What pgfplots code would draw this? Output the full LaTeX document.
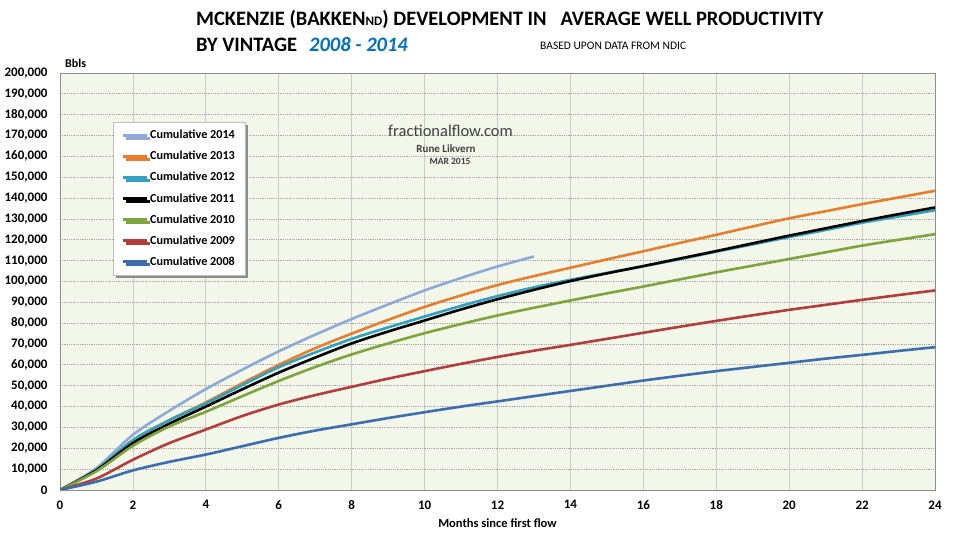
\documentclass[border=0pt]{standalone}
\usepackage{pgfplots}
\pgfplotsset{compat=1.18}
\usepackage{pgfplotstable}
\usepackage{fontspec}
\setmainfont{Carlito}
\usetikzlibrary{shadows}
\definecolor{c14}{RGB}{141,170,214}
\definecolor{c13}{RGB}{232,125,45}
\definecolor{c12}{RGB}{50,160,190}
\definecolor{c11}{RGB}{0,0,0}
\definecolor{c10}{RGB}{125,165,60}
\definecolor{c09}{RGB}{180,60,60}
\definecolor{c08}{RGB}{60,110,175}
\definecolor{bgcol}{RGB}{242,247,234}
\definecolor{titleblue}{RGB}{0,112,192}
\definecolor{wm}{RGB}{64,64,64}

\pgfplotstableread{
m y14
0 0
1 10500
2 26500
3 38000
4 48400
5 57700
6 66500
7 74500
8 82000
9 89000
10 95700
11 101700
12 107200
13 112000
}\tabA

\pgfplotstableread{
m y13 y12 y11 y10 y09 y08
0 0 0 0 0 0 0
1 9700 9700 9500 9000 5500 4000
2 23500 24000 22500 21200 14500 9400
3 33500 33500 31800 30500 22500 13500
4 42000 41500 40000 37500 29000 17000
5 51200 50300 48300 45000 35500 21000
6 60000 58900 56300 52300 41000 25000
7 68000 66000 63500 59000 45500 28500
8 75000 72500 70300 65000 49500 31500
9 81600 78000 76000 70300 53400 34500
10 87800 83200 81300 75200 57000 37300
11 93300 88300 86600 79600 60500 40000
12 98300 93000 91500 83700 63800 42500
13 102600 97200 96000 87400 66800 45000
14 106600 100800 100200 90900 69600 47500
15 110600 104100 103900 94300 72500 50000
16 114500 107300 107400 97600 75400 52500
17 118500 110700 111000 101000 78300 54800
18 122400 114300 114600 104400 81100 57000
19 126400 117800 118300 107600 83800 59000
20 130300 121300 122000 110800 86400 61000
21 133700 124700 125500 114000 88800 63000
22 137100 128200 129000 117200 91200 64800
23 140300 131200 132300 120000 93500 66700
24 143500 134200 135500 122700 95700 68500
}\tabB

\begin{document}
\begin{tikzpicture}[x=1pt,y=1pt]
\useasboundingbox (0,0) rectangle (960,540);
\fill[white] (0,0) rectangle (960,540);
\begin{axis}[
  at={(60pt,50pt)}, anchor=south west,
  scale only axis, width=875pt, height=417pt,
  xmin=0, xmax=24, ymin=0, ymax=200000,
  xtick distance=2,
  ytick distance=10000,
  scaled y ticks=false,
  /pgf/number format/assume math mode=true,
  /pgf/number format/fixed,
  /pgf/number format/precision=0,
  /pgf/number format/1000 sep={,},
  tick label style={font=\bfseries\fontsize{13}{15}\selectfont},
  yticklabel style={xshift=-9pt},
  xticklabel style={yshift=-7pt},
  major tick length=0pt,
  grid=major,
  x grid style={line width=0.8pt, color=black!20},
  y grid style={line width=0.8pt, color=black!35, densely dotted},
  axis line style={color=black!45, line width=0.8pt},
  axis background/.style={fill=bgcol},
  xlabel={\bfseries Months since first flow},
  xlabel style={font=\fontsize{12.5}{14}\selectfont, at={(axis description cs:0.5,0)}, anchor=center, yshift=-33pt},
  legend style={at={(axis cs:1.45,176500)}, anchor=north west,
    draw=black!25, fill=white,
    font=\bfseries\fontsize{12.2}{14}\selectfont,
    row sep=7pt, inner xsep=8pt, inner ysep=6pt,
    drop shadow={shadow xshift=3pt, shadow yshift=-3pt, fill=black!45, opacity=1}},
  legend cell align=left,
  legend image code/.code={\draw[#1, line width=3pt] (0pt,0pt) -- (24pt,0pt);},
  every axis plot/.append style={line width=2.6pt, smooth, tension=0.5},
]
\addplot[c14] table[x=m, y=y14] {\tabA};
\addlegendentry{Cumulative 2014}
\addplot[c13] table[x=m, y=y13] {\tabB};
\addlegendentry{Cumulative 2013}
\addplot[c12] table[x=m, y=y12] {\tabB};
\addlegendentry{Cumulative 2012}
\addplot[c11] table[x=m, y=y11] {\tabB};
\addlegendentry{Cumulative 2011}
\addplot[c10] table[x=m, y=y10] {\tabB};
\addlegendentry{Cumulative 2010}
\addplot[c09] table[x=m, y=y09] {\tabB};
\addlegendentry{Cumulative 2009}
\addplot[c08] table[x=m, y=y08] {\tabB};
\addlegendentry{Cumulative 2008}
\end{axis}
% titles and annotations
\node[anchor=base west, inner sep=0pt, font=\bfseries\fontsize{20.5}{24}\selectfont] at (196,514)
  {MCKENZIE (BAKKEN{\fontsize{13}{14}\selectfont ND}) DEVELOPMENT IN\ \ \ AVERAGE WELL PRODUCTIVITY};
\node[anchor=base west, inner sep=0pt, font=\bfseries\fontsize{20.5}{24}\selectfont] at (196,488)
  {BY VINTAGE\hspace{12pt}{\color{titleblue}\itshape 2008 - 2014}};
\node[anchor=base west, inner sep=0pt, font=\fontsize{11.5}{13}\selectfont] at (540,490)
  {BASED UPON DATA FROM NDIC};
\node[anchor=base west, inner sep=0pt, font=\bfseries\fontsize{12}{14}\selectfont] at (65,472) {Bbls};
\node[inner sep=0pt, text=wm, font=\fontsize{16.5}{19}\selectfont] at (450.5,409) {fractionalflow.com};
\node[inner sep=0pt, text=wm, font=\bfseries\fontsize{11}{13}\selectfont] at (446,391) {Rune Likvern};
\node[inner sep=0pt, text=wm, font=\bfseries\fontsize{9.5}{11}\selectfont] at (450,379) {MAR 2015};
\end{tikzpicture}
\end{document}
